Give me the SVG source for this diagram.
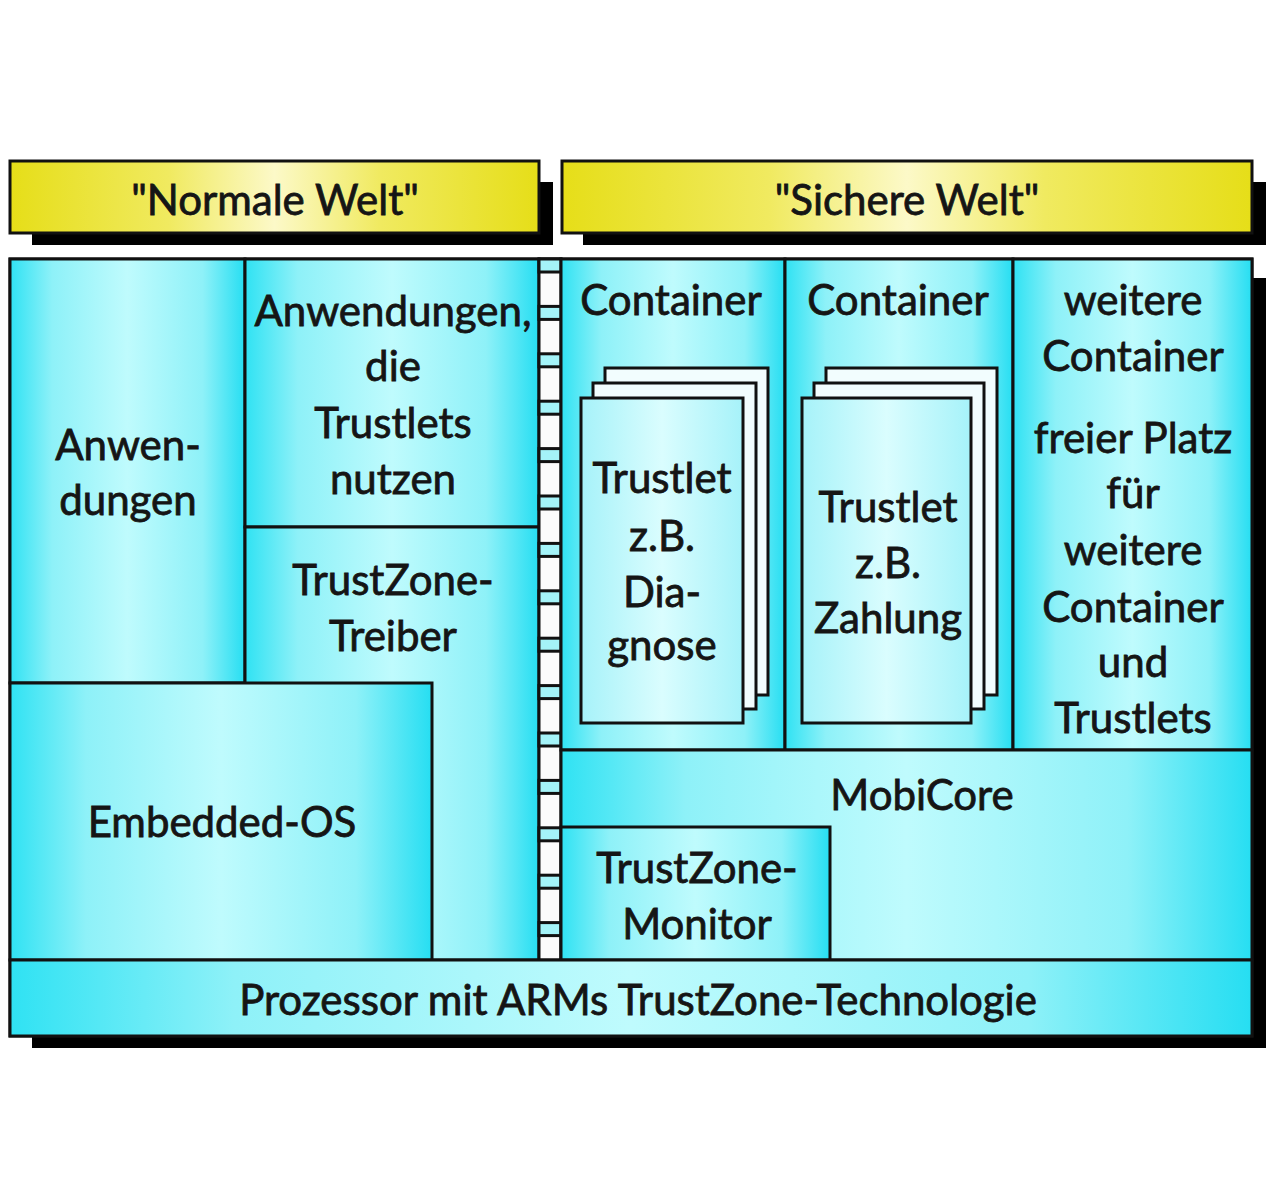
<svg xmlns="http://www.w3.org/2000/svg" width="1280" height="1190" viewBox="0 0 1280 1190">
  <defs>
    <linearGradient id="cyan" x1="0" y1="0" x2="1" y2="0">
      <stop offset="0" stop-color="#2fe2f3"/>
      <stop offset="0.18" stop-color="#8ef1f8"/>
      <stop offset="0.5" stop-color="#bffbfd"/>
      <stop offset="0.82" stop-color="#8ef1f8"/>
      <stop offset="1" stop-color="#26def2"/>
    </linearGradient>
    <linearGradient id="card" x1="0" y1="0" x2="1" y2="0">
      <stop offset="0" stop-color="#a6f2f9"/>
      <stop offset="0.5" stop-color="#dafdfe"/>
      <stop offset="1" stop-color="#a6f2f9"/>
    </linearGradient>
    <linearGradient id="yellow" x1="0" y1="0" x2="1" y2="0">
      <stop offset="0" stop-color="#e6de18"/>
      <stop offset="0.3" stop-color="#f0ea60"/>
      <stop offset="0.5" stop-color="#fcf9c8"/>
      <stop offset="0.7" stop-color="#f0ea60"/>
      <stop offset="1" stop-color="#e6de18"/>
    </linearGradient>
    <style>
      .box { fill: url(#cyan); stroke: #111; stroke-width: 3; }
      .hdr { fill: url(#yellow); stroke: #111; stroke-width: 3; }
      .shadow { fill: #000; }
      .card { fill: url(#card); stroke: #111; stroke-width: 3; }
      .cardback { fill: #f2fdfe; stroke: #111; stroke-width: 3; }
      .strip { fill: #fbfbfb; stroke: #111; stroke-width: 3; }
      .seg { fill: #a4f3f8; stroke: #111; stroke-width: 3; }
      .t { font-family: Lato, "Liberation Sans", sans-serif; font-size: 42px; fill: #151515; stroke: #151515; stroke-width: 0.8; text-anchor: middle; }
    </style>
  </defs>
  <rect width="1280" height="1190" fill="#ffffff"/>

  <!-- shadows -->
  <g id="shadows">
    <rect class="shadow" x="32" y="182" width="521" height="63"/>
    <rect class="shadow" x="583" y="182" width="683" height="63"/>
    <rect class="shadow" x="32" y="278" width="1234" height="770"/>
  </g>

  <g id="hdr-normal">
    <rect class="hdr" x="10" y="161" width="529" height="72"/>
    <text class="t" x="275" y="215">"Normale Welt"</text>
  </g>
  <g id="hdr-sicher">
    <rect class="hdr" x="562" y="161" width="690" height="72"/>
    <text class="t" x="907" y="215">"Sichere Welt"</text>
  </g>

  <g id="panel">
    <rect class="box" x="10" y="259" width="1242" height="777"/>
  </g>

  <g id="anwendungen">
    <rect class="box" x="10" y="259" width="235" height="424"/>
    <text class="t" x="128" y="460">Anwen-</text>
    <text class="t" x="128" y="515">dungen</text>
  </g>
  <g id="anw-trustlets">
    <rect class="box" x="245" y="259" width="294" height="268"/>
    <text class="t" x="393" y="326">Anwendungen,</text>
    <text class="t" x="393" y="381">die</text>
    <text class="t" x="393" y="438">Trustlets</text>
    <text class="t" x="393" y="494">nutzen</text>
  </g>
  <g id="tz-treiber">
    <rect class="box" x="245" y="527" width="294" height="433"/>
    <text class="t" x="393" y="595">TrustZone-</text>
    <text class="t" x="393" y="651">Treiber</text>
  </g>
  <g id="embedded-os">
    <rect class="box" x="10" y="683" width="422" height="277"/>
    <text class="t" x="222" y="837">Embedded-OS</text>
  </g>

  <g id="separator">
    <rect class="strip" x="539" y="259" width="22" height="701"/>
    <rect class="seg" x="539" y="259" width="22" height="13"/>
    <rect class="seg" x="539" y="306.4" width="22" height="13"/>
    <rect class="seg" x="539" y="353.8" width="22" height="13"/>
    <rect class="seg" x="539" y="401.2" width="22" height="13"/>
    <rect class="seg" x="539" y="448.6" width="22" height="13"/>
    <rect class="seg" x="539" y="496" width="22" height="13"/>
    <rect class="seg" x="539" y="543.4" width="22" height="13"/>
    <rect class="seg" x="539" y="590.8" width="22" height="13"/>
    <rect class="seg" x="539" y="638.2" width="22" height="13"/>
    <rect class="seg" x="539" y="685.6" width="22" height="13"/>
    <rect class="seg" x="539" y="733" width="22" height="13"/>
    <rect class="seg" x="539" y="780.4" width="22" height="13"/>
    <rect class="seg" x="539" y="827.8" width="22" height="13"/>
    <rect class="seg" x="539" y="875.2" width="22" height="13"/>
    <rect class="seg" x="539" y="922.6" width="22" height="13"/>
  </g>

  <g id="container1">
    <rect class="box" x="561" y="259" width="224" height="491"/>
    <text class="t" x="671" y="315">Container</text>
  </g>
  <g id="trustlet-diagnose">
    <rect class="cardback" x="605" y="368" width="163" height="327"/>
    <rect class="cardback" x="593" y="383" width="163" height="326"/>
    <rect class="card" x="581" y="398" width="162" height="325"/>
    <text class="t" x="662" y="493">Trustlet</text>
    <text class="t" x="662" y="551">z.B.</text>
    <text class="t" x="662" y="607">Dia-</text>
    <text class="t" x="662" y="660">gnose</text>
  </g>

  <g id="container2">
    <rect class="box" x="785" y="259" width="228" height="491"/>
    <text class="t" x="898" y="315">Container</text>
  </g>
  <g id="trustlet-zahlung">
    <rect class="cardback" x="826" y="368" width="171" height="327"/>
    <rect class="cardback" x="814" y="383" width="170" height="326"/>
    <rect class="card" x="802" y="398" width="169" height="325"/>
    <text class="t" x="888" y="522">Trustlet</text>
    <text class="t" x="888" y="578">z.B.</text>
    <text class="t" x="888" y="633">Zahlung</text>
  </g>

  <g id="weitere">
    <rect class="box" x="1013" y="259" width="239" height="491"/>
    <text class="t" x="1133" y="315">weitere</text>
    <text class="t" x="1133" y="371">Container</text>
    <text class="t" x="1133" y="453">freier Platz</text>
    <text class="t" x="1133" y="508">für</text>
    <text class="t" x="1133" y="565">weitere</text>
    <text class="t" x="1133" y="622">Container</text>
    <text class="t" x="1133" y="677">und</text>
    <text class="t" x="1133" y="733">Trustlets</text>
  </g>

  <g id="mobicore">
    <rect class="box" x="561" y="750" width="691" height="210"/>
    <text class="t" x="922" y="810">MobiCore</text>
  </g>
  <g id="tz-monitor">
    <rect class="box" x="561" y="827" width="269" height="133"/>
    <text class="t" x="697" y="883">TrustZone-</text>
    <text class="t" x="697" y="939">Monitor</text>
  </g>

  <g id="prozessor">
    <rect class="box" x="10" y="960" width="1242" height="76"/>
    <text class="t" x="638" y="1015">Prozessor mit ARMs TrustZone-Technologie</text>
  </g>

  <g id="connectors"></g>
</svg>
